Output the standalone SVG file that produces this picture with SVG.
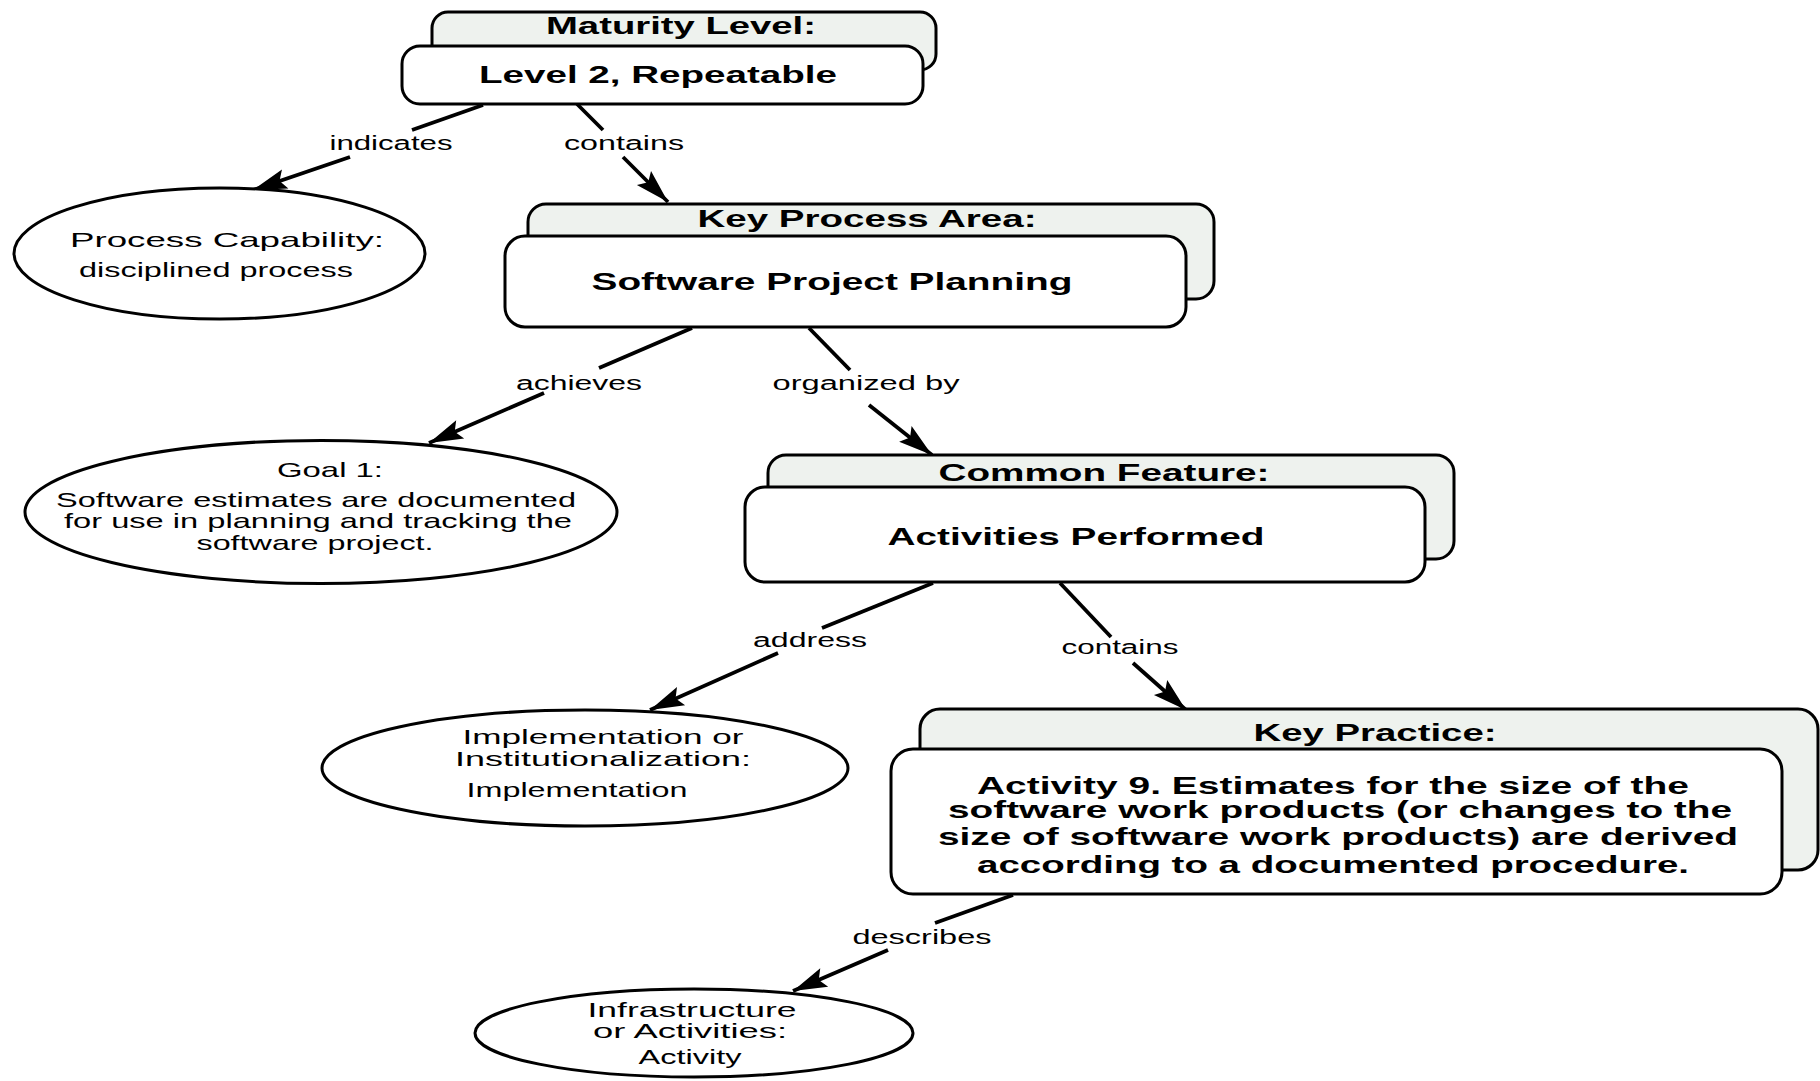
<svg xmlns="http://www.w3.org/2000/svg" width="1820" height="1081" viewBox="0 0 1820 1081">
  <style>
    .back { fill: #eef2ee; stroke: #000; stroke-width: 3; }
    .front { fill: #fff; stroke: #000; stroke-width: 3; }
    .oval { fill: #fff; stroke: #000; stroke-width: 3; }
    .edge { fill: none; stroke: #000; stroke-width: 3.8; }
    text { font-family: "Liberation Sans", Arial, sans-serif; fill: #000; text-anchor: middle; }
    .ttl { font-weight: bold; font-size: 24px; }
    .body { font-size: 21px; }
    .lbl { font-size: 20px; }
  </style>
  <defs>
    <marker id="dart" markerUnits="userSpaceOnUse" viewBox="-36 -11 38 22" markerWidth="38" markerHeight="22" refX="0" refY="0" orient="auto">
      <path d="M0,0 L-34,-10 L-28,0 L-34,10 Z" fill="#000"/>
    </marker>
  </defs>
  <rect width="1820" height="1081" fill="#fff"/>

  <!-- connectors: each link is split around its label -->
  <g id="connectors">
    <path class="edge" d="M483,105 L412,130"/>
    <path class="edge" d="M350,157 L253,190" marker-end="url(#dart)"/>
    <text class="lbl" x="391" y="150" textLength="123" lengthAdjust="spacingAndGlyphs">indicates</text>

    <path class="edge" d="M577,104 L603,130"/>
    <path class="edge" d="M623,157 L668,202" marker-end="url(#dart)"/>
    <text class="lbl" x="624" y="150" textLength="120" lengthAdjust="spacingAndGlyphs">contains</text>

    <path class="edge" d="M692,328 L599,368"/>
    <path class="edge" d="M544,393 L429,443" marker-end="url(#dart)"/>
    <text class="lbl" x="579" y="390" textLength="126" lengthAdjust="spacingAndGlyphs">achieves</text>

    <path class="edge" d="M809,328 L850,370"/>
    <path class="edge" d="M869,405 L932,455" marker-end="url(#dart)"/>
    <text class="lbl" x="866" y="390" textLength="187" lengthAdjust="spacingAndGlyphs">organized by</text>

    <path class="edge" d="M933,583 L822,628"/>
    <path class="edge" d="M778,653 L650,710" marker-end="url(#dart)"/>
    <text class="lbl" x="810" y="647" textLength="114" lengthAdjust="spacingAndGlyphs">address</text>

    <path class="edge" d="M1060,583 L1111,637"/>
    <path class="edge" d="M1133,663 L1186,710" marker-end="url(#dart)"/>
    <text class="lbl" x="1120" y="654" textLength="117" lengthAdjust="spacingAndGlyphs">contains</text>

    <path class="edge" d="M1013,895 L935,923"/>
    <path class="edge" d="M888,950 L793,991" marker-end="url(#dart)"/>
    <text class="lbl" x="922" y="944" textLength="139" lengthAdjust="spacingAndGlyphs">describes</text>
  </g>

  <!-- Maturity Level -->
  <g id="maturity-level">
    <rect class="back" x="432" y="12" width="504" height="58" rx="16"/>
    <rect class="front" x="402" y="46" width="521" height="58" rx="18"/>
    <text class="ttl" x="681" y="34" textLength="270" lengthAdjust="spacingAndGlyphs">Maturity Level:</text>
    <text class="ttl" x="658" y="83" textLength="358" lengthAdjust="spacingAndGlyphs">Level 2, Repeatable</text>
  </g>

  <!-- Process Capability -->
  <g id="process-capability">
    <ellipse class="oval" cx="219.5" cy="253.5" rx="205.5" ry="65.5"/>
    <text class="body" x="227" y="247" textLength="314" lengthAdjust="spacingAndGlyphs">Process Capability:</text>
    <text class="body" x="216" y="277" textLength="274" lengthAdjust="spacingAndGlyphs">disciplined process</text>
  </g>

  <!-- Key Process Area -->
  <g id="key-process-area">
    <rect class="back" x="528" y="204" width="686" height="95" rx="18"/>
    <rect class="front" x="505" y="236" width="681" height="91" rx="20"/>
    <text class="ttl" x="867" y="227" textLength="339" lengthAdjust="spacingAndGlyphs">Key Process Area:</text>
    <text class="ttl" x="832" y="290" textLength="481" lengthAdjust="spacingAndGlyphs">Software Project Planning</text>
  </g>

  <!-- Goal 1 -->
  <g id="goal-1">
    <ellipse class="oval" cx="321" cy="512" rx="296" ry="71.5"/>
    <text class="body" x="330" y="477" textLength="106" lengthAdjust="spacingAndGlyphs">Goal 1:</text>
    <text class="body" x="316" y="507" textLength="520" lengthAdjust="spacingAndGlyphs">Software estimates are documented</text>
    <text class="body" x="318" y="528" textLength="508" lengthAdjust="spacingAndGlyphs">for use in planning and tracking the</text>
    <text class="body" x="315" y="550" textLength="237" lengthAdjust="spacingAndGlyphs">software project.</text>
  </g>

  <!-- Common Feature -->
  <g id="common-feature">
    <rect class="back" x="768" y="455" width="686" height="104" rx="18"/>
    <rect class="front" x="745" y="487" width="680" height="95" rx="20"/>
    <text class="ttl" x="1104" y="481" textLength="331" lengthAdjust="spacingAndGlyphs">Common Feature:</text>
    <text class="ttl" x="1076" y="545" textLength="377" lengthAdjust="spacingAndGlyphs">Activities Performed</text>
  </g>

  <!-- Implementation or Institutionalization -->
  <g id="implementation">
    <ellipse class="oval" cx="585" cy="768" rx="263" ry="58"/>
    <text class="body" x="603" y="744" textLength="281" lengthAdjust="spacingAndGlyphs">Implementation or</text>
    <text class="body" x="603" y="766" textLength="296" lengthAdjust="spacingAndGlyphs">Institutionalization:</text>
    <text class="body" x="577" y="797" textLength="221" lengthAdjust="spacingAndGlyphs">Implementation</text>
  </g>

  <!-- Key Practice -->
  <g id="key-practice">
    <rect class="back" x="920" y="709" width="898" height="161" rx="20"/>
    <rect class="front" x="891" y="749" width="891" height="145" rx="22"/>
    <text class="ttl" x="1375" y="741" textLength="243" lengthAdjust="spacingAndGlyphs">Key Practice:</text>
    <text class="ttl" x="1333" y="794" textLength="712" lengthAdjust="spacingAndGlyphs">Activity 9. Estimates for the size of the</text>
    <text class="ttl" x="1340" y="818" textLength="784" lengthAdjust="spacingAndGlyphs">software work products (or changes to the</text>
    <text class="ttl" x="1338" y="845" textLength="800" lengthAdjust="spacingAndGlyphs">size of software work products) are derived</text>
    <text class="ttl" x="1333" y="873" textLength="712" lengthAdjust="spacingAndGlyphs">according to a documented procedure.</text>
  </g>

  <!-- Infrastructure or Activities -->
  <g id="infrastructure">
    <ellipse class="oval" cx="694" cy="1033" rx="219" ry="44"/>
    <text class="body" x="692" y="1017" textLength="209" lengthAdjust="spacingAndGlyphs">Infrastructure</text>
    <text class="body" x="690" y="1038" textLength="194" lengthAdjust="spacingAndGlyphs">or Activities:</text>
    <text class="body" x="690" y="1064" textLength="103" lengthAdjust="spacingAndGlyphs">Activity</text>
  </g>
</svg>
